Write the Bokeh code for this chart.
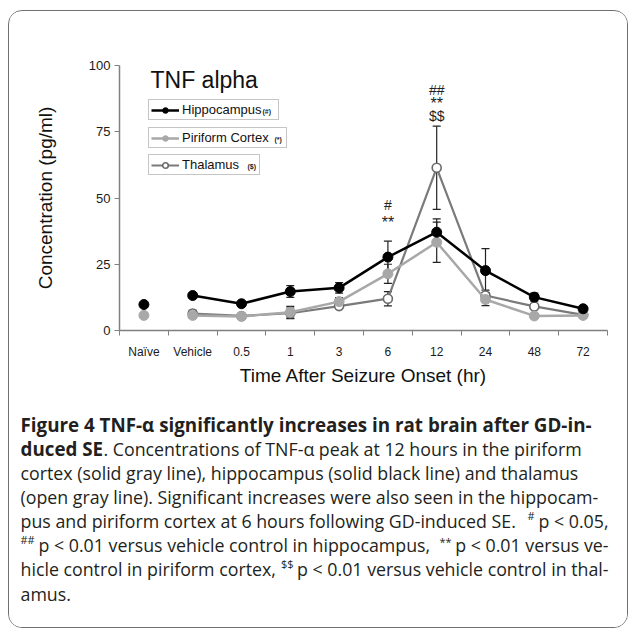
from bokeh.plotting import figure
from bokeh.layouts import column
from bokeh.models import (Range1d, FixedTicker, Label, Legend, LegendItem, Whisker,
                          ColumnDataSource, TeeHead)
from bokeh.embed import file_html
from bokeh.resources import INLINE

# ---------------- data ----------------
categories = ["Naïve", "Vehicle", "0.5", "1", "3", "6", "12", "24", "48", "72"]
time_points = categories[1:]
hippocampus = [13.2, 10.1, 14.7, 16.1, 27.7, 37.1, 22.6, 12.6, 8.2]
hippocampus_err = [0.8, 0.6, 2.2, 2.0, 6.0, 5.0, 8.3, 1.5, 0.8]
piriform = [5.7, 5.3, 6.9, 10.9, 21.4, 33.3, 11.7, 5.5, 5.7]
piriform_err = [1.0, 0.5, 2.2, 1.5, 3.6, 7.6, 2.3, 0.5, 0.5]
thalamus = [6.4, 5.5, 6.5, 9.2, 12.0, 61.4, 13.2, 9.1, 5.9]
thalamus_err = [1.2, 0.5, 2.0, 1.0, 2.7, 15.7, 2.0, 0.8, 0.5]
naive_hippocampus = [9.8]
naive_piriform = [5.7]
y_ticks = [0, 25, 50, 75, 100]
sig_marks = [("6", "#", 47.5), ("6", "**", 40.8),
             ("12", "##", 90.6), ("12", "**", 85.7), ("12", "$$", 80.8)]

# ---------------- layout helpers ----------------
OX, OY = 9, 11          # page position of the chart canvas (inside the 1px box border)
W = 618
CH = 390                # chart canvas height
FL, FB = 119, 330       # frame left / bottom on the page


def sx(px):
    return px - FL


def sy(py):
    return FB - py


def xpos(cat):
    return categories.index(cat) + 0.5


xt = [xpos(c) for c in time_points]
xn = [xpos(categories[0])]

p = figure(width=W, height=CH, output_backend="svg", toolbar_location=None,
           x_range=Range1d(0, len(categories)), y_range=Range1d(0, 100),
           min_border_left=FL - OX, min_border_right=W - (607 - OX),
           min_border_top=65 - OY, min_border_bottom=CH - (FB - OY), title=None)
p.frame_align = False
p.outline_line_color = None
p.xgrid.visible = False
p.ygrid.visible = False
p.background_fill_color = "white"
p.border_fill_color = "white"

AX = "#808080"
FONT = "Liberation Sans"

xa = p.xaxis[0]
xa.ticker = FixedTicker(ticks=[xpos(c) for c in categories],
                        minor_ticks=list(range(len(categories) + 1)))
xa.major_label_overrides = {xpos(c): c for c in categories}
xa.major_tick_out = 0
xa.major_tick_in = 0
xa.minor_tick_out = 5
xa.minor_tick_in = 0
xa.minor_tick_line_color = AX
xa.axis_line_color = AX
xa.axis_line_width = 1.5
xa.major_label_standoff = 9
xa.major_label_text_font = FONT
xa.major_label_text_font_size = "12px"
xa.major_label_text_color = "#1a1a1a"
xa.axis_label = "Time After Seizure Onset (hr)"
xa.axis_label_text_font = FONT
xa.axis_label_text_font_size = "19px"
xa.axis_label_text_font_style = "normal"
xa.axis_label_text_color = "#111111"
xa.axis_label_standoff = 3

ya = p.yaxis[0]
ya.ticker = FixedTicker(ticks=y_ticks, minor_ticks=[])
ya.major_tick_out = 5
ya.major_tick_in = 0
ya.major_tick_line_color = AX
ya.axis_line_color = AX
ya.axis_line_width = 1.5
ya.major_label_standoff = 4
ya.major_label_text_font = FONT
ya.major_label_text_font_size = "13px"
ya.major_label_text_color = "#1a1a1a"
ya.axis_label = "Concentration (pg/ml)"
ya.axis_label_text_font = FONT
ya.axis_label_text_font_size = "19px"
ya.axis_label_text_font_style = "normal"
ya.axis_label_text_color = "#111111"
ya.axis_label_standoff = 30

for vals, errs in ((thalamus, thalamus_err), (piriform, piriform_err),
                   (hippocampus, hippocampus_err)):
    src = ColumnDataSource(dict(x=xt, upper=[v + e for v, e in zip(vals, errs)],
                                lower=[v - e for v, e in zip(vals, errs)]))
    p.add_layout(Whisker(source=src, base="x", upper="upper", lower="lower",
                         line_color="#222222", line_width=1.2, level="underlay",
                         upper_head=TeeHead(size=8, line_color="#222222", line_width=1.2),
                         lower_head=TeeHead(size=8, line_color="#222222", line_width=1.2)))

th_line = p.line(xt, thalamus, line_color="#7a7a7a", line_width=2.2)
th_pts = p.scatter(xt, thalamus, size=9, fill_color="white", line_color="#6a6a6a",
                   line_width=1.6)
pc_line = p.line(xt, piriform, line_color="#a8a8a8", line_width=2.5)
pc_pts = p.scatter(xt, piriform, size=10, fill_color="#a8a8a8", line_color="#a8a8a8")
p.scatter(xn, naive_piriform, size=10, fill_color="#a8a8a8", line_color="#a8a8a8")
hc_line = p.line(xt, hippocampus, line_color="black", line_width=2.5)
hc_pts = p.scatter(xt, hippocampus, size=10, fill_color="black", line_color="black")
p.scatter(xn, naive_hippocampus, size=10, fill_color="black", line_color="black")

for cat, txt, yv in sig_marks:
    p.add_layout(Label(x=xpos(cat), y=yv, text=txt, text_align="center",
                       text_baseline="middle", text_font=FONT,
                       text_font_size="16px" if txt == "**" else "14px",
                       text_color="#222222"))

p.add_layout(Label(x=sx(150), y=sy(79), x_units="screen", y_units="screen",
                   text="TNF alpha", text_font=FONT, text_font_size="23px",
                   text_baseline="middle", text_color="#111111"))

legend_specs = [("Hippocampus", [hc_line, hc_pts], 120, 94, "(#)", 262),
                ("Piriform Cortex", [pc_line, pc_pts], 148, 102, "(*)", 274),
                ("Thalamus", [th_line, th_pts], 175, 75, "($)", 247)]
for name, rends, bottom, lw, tag, tagx in legend_specs:
    p.add_layout(Label(x=sx(tagx), y=sy(bottom - 9), x_units="screen", y_units="screen",
                       text=tag, text_font=FONT, text_font_size="7px",
                       text_font_style="bold", text_baseline="middle",
                       text_color="#222222"))
    lg = Legend(items=[LegendItem(label=name, renderers=rends)],
                location=(sx(148), sy(bottom)), orientation="vertical",
                border_line_color="#8c8c8c", border_line_width=1,
                background_fill_alpha=0,
                padding=2, spacing=0, margin=0, glyph_width=28, glyph_height=14,
                label_height=14, label_width=lw, label_standoff=3,
                label_text_font=FONT, label_text_font_size="13px",
                label_text_color="#111111")
    p.add_layout(lg)

# ---------------- caption ----------------
CAP_TOP = OY + CH
CAP_H = 627 - CAP_TOP
c = figure(width=W, height=CAP_H, output_backend="svg", toolbar_location=None,
           x_range=Range1d(0, W), y_range=Range1d(CAP_H, 0),
           x_axis_location=None, y_axis_location=None, min_border=0, title=None)
c.frame_align = False
c.outline_line_color = None
c.xgrid.visible = False
c.ygrid.visible = False
c.background_fill_color = "white"
c.border_fill_color = "white"

CF = "Open Sans"
CS = "17.8px"
BS = "18.8px"
SS = "11px"
CC = "#231f20"
R = 608   # right margin of the justified caption lines


def cap(x, y, text, bold=False, align="left", size=CS, raise_=0):
    c.add_layout(Label(x=x - OX, y=y - CAP_TOP - raise_, text=text, text_font=CF,
                       text_font_size=size, text_font_style="bold" if bold else "normal",
                       text_align=align, text_baseline="middle", text_color=CC))


cap(20, 424, "Figure 4 TNF-\u03b1 significantly increases in rat brain after GD-in-",
    bold=True, size=BS)
cap(20, 448, "duced SE", bold=True, size=BS)
cap(103, 448, ". Concentrations of TNF-\u03b1 peak at 12 hours in the piriform")
cap(20, 472, "cortex (solid gray line), hippocampus (solid black line) and thalamus")
cap(20, 496, "(open gray line). Significant increases were also seen in the hippocam-")
cap(20, 520, "pus and piriform cortex at 6 hours following GD-induced SE.")
cap(534, 520, "#", align="right", size=SS, raise_=5)
cap(R, 520, "p < 0.05,", align="right")
cap(20, 544, "##", size=SS, raise_=5)
cap(38, 544, "p < 0.01 versus vehicle control in hippocampus,")
cap(451, 544, "**", align="right", size=SS, raise_=3)
cap(R, 544, "p < 0.01 versus ve-", align="right")
cap(20, 568, "hicle control in piriform cortex,")
cap(293, 568, "$$", align="right", size=SS, raise_=5)
cap(R, 568, "p < 0.01 versus vehicle control in thal-", align="right")
cap(20, 593, "amus.")

layout = column(p, c, spacing=0, margin=(10, 0, 0, 8),
                styles={"border": "1px solid #707070", "border-radius": "14px",
                        "overflow": "hidden", "background-color": "white"})

open("out.html", "w").write(file_html(layout, INLINE))
